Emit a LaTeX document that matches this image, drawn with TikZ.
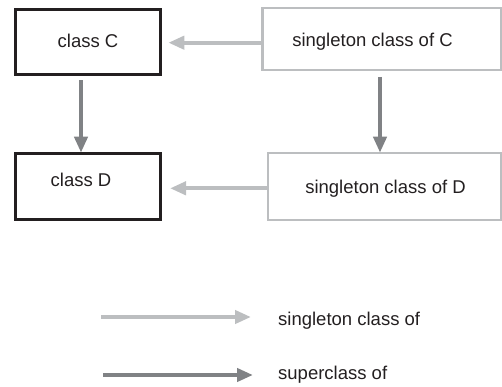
\documentclass[tikz,border=0pt]{standalone}
\usepackage{fontspec}
\setmainfont{Liberation Sans}
\usetikzlibrary{arrows.meta}
\definecolor{ink}{HTML}{231F20}
\definecolor{lightg}{HTML}{BCBEC0}
\definecolor{darkg}{HTML}{808285}
\begin{document}
\begin{tikzpicture}[x=1pt,y=1pt,
  txt/.style={font=\fontsize{18.5}{22}\selectfont, text=ink, inner sep=0pt},
  darkbox/.style={draw=ink, line width=3pt, rectangle, inner sep=0pt, outer sep=0pt},
  lightbox/.style={draw=lightg, line width=2.6pt, rectangle, inner sep=0pt, outer sep=0pt},
  singarrow/.style={draw=lightg, line width=4pt, -{Triangle[length=16pt,width=13pt]}},
  suparrow/.style={draw=darkg, line width=4pt, -{Triangle[length=16pt,width=13pt]}}]
\useasboundingbox (0,0) rectangle (502,386);
% boxes
\node[darkbox, minimum width=145pt, minimum height=65pt] (C) at (87.5,344) {};
\node[lightbox, minimum width=238.5pt, minimum height=62pt] (sC) at (381.75,347) {};
\node[darkbox, minimum width=145pt, minimum height=66pt] (D) at (87.5,200) {};
\node[lightbox, minimum width=233pt, minimum height=67pt] (sD) at (384.5,199.5) {};
% texts
\node[txt, anchor=base] (tC) at (88,338) {class C};
\node[txt, anchor=base] (tsC) at (372.5,339.3) {singleton class of C};
\node[txt, anchor=base] (tD) at (81,199.3) {class D};
\node[txt, anchor=base] (tsD) at (385.5,192.7) {singleton class of D};
% connectors
\draw[singarrow] ([xshift=-1pt]sC.west |- 0,343.3) -- ([xshift=8.3pt]C.east |- 0,343.3);
\draw[singarrow] ([xshift=-1pt]sD.west |- 0,197.7) -- ([xshift=10pt]D.east |- 0,197.7);
\draw[suparrow] ([xshift=-6.5pt,yshift=-6pt]C.south) -- ([xshift=-6.5pt,yshift=0.3pt]D.north);
\draw[suparrow] ([xshift=-1.75pt,yshift=-7pt]sC.south) -- ([xshift=-4.5pt,yshift=0.3pt]sD.north);
% legend
\coordinate (l1s) at (101,69);
\coordinate (l1e) at (251,69);
\coordinate (l2s) at (103,11);
\coordinate (l2e) at (253,11);
\draw[singarrow] (l1s) -- (l1e);
\draw[suparrow] (l2s) -- (l2e);
\node[txt, anchor=base west] (lg1) at (278,61) {singleton class of};
\node[txt, anchor=base west] (lg2) at (278,7) {superclass of};
\end{tikzpicture}
\end{document}
